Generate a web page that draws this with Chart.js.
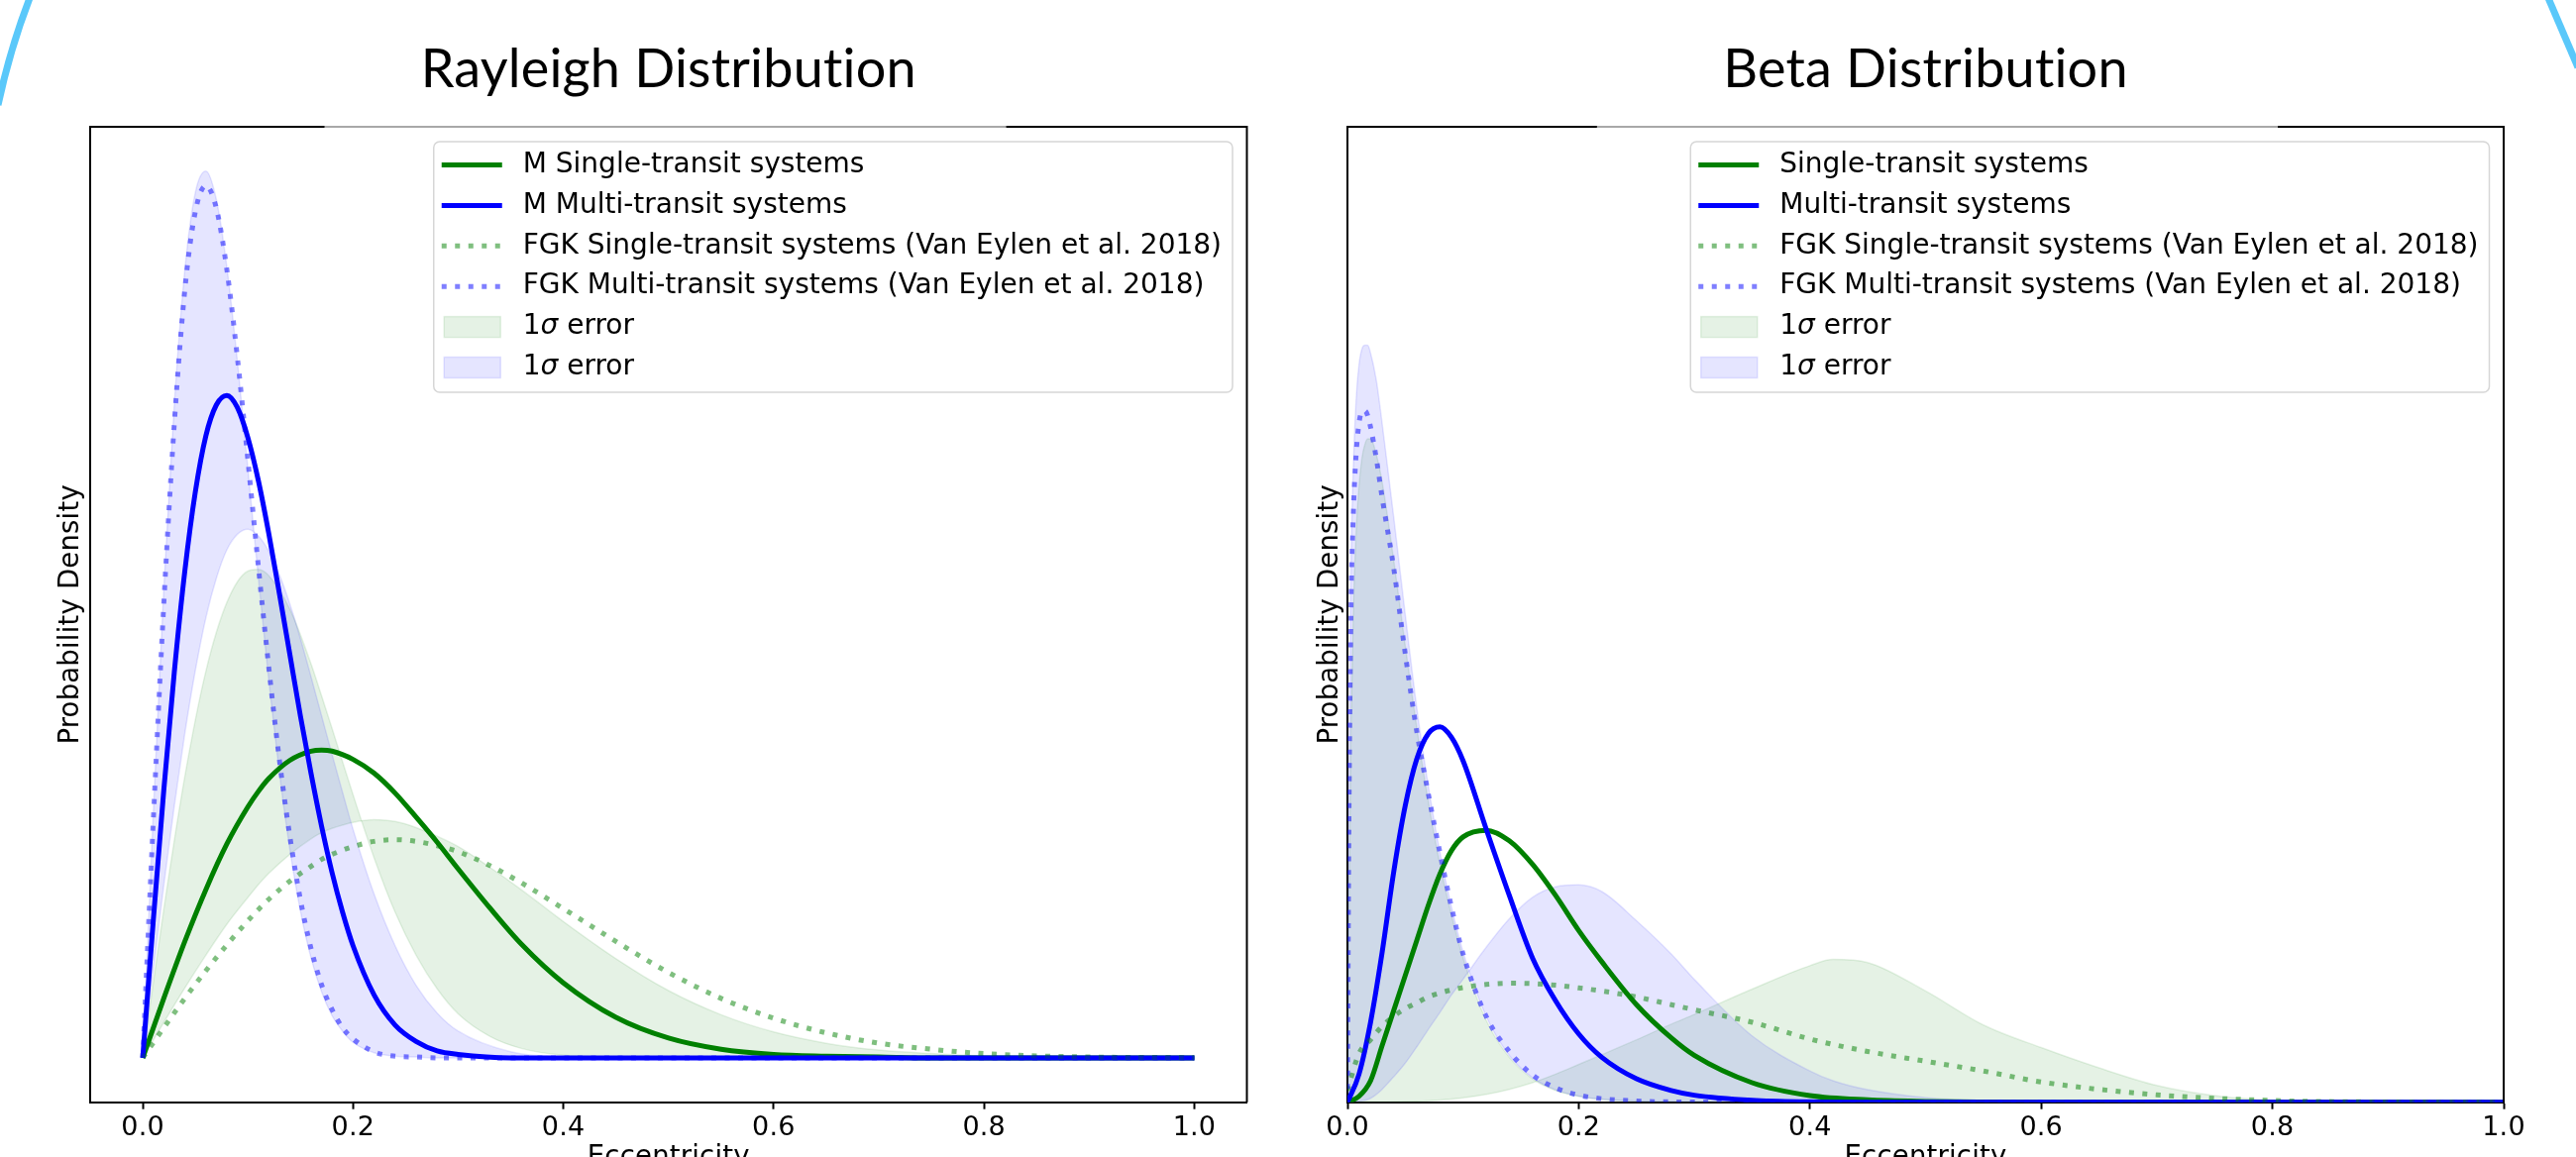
<!DOCTYPE html>
<html><head><meta charset="utf-8">
<script src="https://cdn.jsdelivr.net/npm/chart.js@4.4.1/dist/chart.umd.min.js"></script>
<style>
html,body{margin:0;padding:0;background:#fff;overflow:hidden;width:2600px;height:1168px;position:relative;}
canvas{position:absolute;top:0;}
#c1{left:0;} #c2{left:1300px;} #deco{left:0;pointer-events:none;}
</style></head><body>
<canvas id="c1" width="1300" height="1200"></canvas>
<canvas id="c2" width="1300" height="1200"></canvas>
<canvas id="deco" width="2600" height="1168"></canvas>
<script>
// ---------------- data ----------------
const xTicks = [0, 0.2, 0.4, 0.6, 0.8, 1.0];

// Rayleigh panel
const xRayFine = [0,0.01,0.02,0.03,0.04,0.05,0.06,0.07,0.08,0.09,0.10,0.11,0.12,0.13,0.14,0.15,0.16,0.17,0.18,0.19,0.20,0.22,0.24,0.26,0.28,0.30,0.35,0.40,0.50,0.60,0.80,1.00];
const rayFgkMulti = [0,2.74,5.26,7.35,8.90,9.81,10.11,9.85,9.14,8.12,6.93,5.69,4.51,3.45,2.56,1.83,1.27,0.85,0.56,0.35,0.22,0.07,0.02,0.01,0,0,0,0,0,0,0,0];
const rayMMulti = [0,1.59,3.10,4.47,5.64,6.56,7.21,7.57,7.68,7.54,7.19,6.69,6.07,5.38,4.67,3.96,3.30,2.69,2.15,1.69,1.30,0.73,0.38,0.19,0.08,0.04,0,0,0,0,0,0];
const rayBlueBandA = [0,2.83,5.43,7.57,9.13,10.03,10.28,9.95,9.17,8.08,6.83,5.56,4.36,3.30,2.41,1.70,1.16,0.77,0.49,0.31,0.18,0.06,0.02,0.01,0,0,0,0,0,0,0,0];
const rayBlueBandB = [0,1.02,2.00,2.92,3.76,4.49,5.10,5.56,5.89,6.07,6.13,6.05,5.87,5.60,5.26,4.86,4.42,3.97,3.52,3.08,2.65,1.90,1.30,0.84,0.52,0.31,0.07,0.01,0,0,0,0];

const xRayWide = [0,0.02,0.04,0.06,0.08,0.10,0.11,0.12,0.14,0.16,0.17,0.18,0.20,0.22,0.24,0.26,0.28,0.30,0.33,0.36,0.40,0.45,0.50,0.55,0.60,0.65,0.70,0.75,0.80,0.90,1.00];
const rayMSingle = [0,0.69,1.35,1.95,2.48,2.91,3.09,3.24,3.45,3.555,3.568,3.556,3.46,3.30,3.07,2.79,2.50,2.19,1.74,1.32,0.87,0.47,0.23,0.10,0.04,0.02,0.01,0,0,0,0];
const rayFgkSingle = [0,0.35,0.69,1.01,1.31,1.59,1.72,1.84,2.05,2.22,2.30,2.36,2.45,2.51,2.53,2.51,2.46,2.39,2.23,2.03,1.73,1.35,0.99,0.69,0.46,0.29,0.17,0.10,0.05,0.01,0.003];
const rayGreenBandA = [0,1.72,3.26,4.48,5.28,5.644,5.664,5.589,5.20,4.57,4.20,3.82,3.05,2.32,1.69,1.19,0.80,0.51,0.25,0.11,0.03,0.01,0,0,0,0,0,0,0,0,0];
const rayGreenBandB = [0,0.41,0.81,1.19,1.55,1.86,2.01,2.14,2.36,2.54,2.61,2.66,2.73,2.76,2.74,2.67,2.57,2.45,2.21,1.95,1.58,1.15,0.78,0.50,0.30,0.17,0.09,0.05,0.02,0.004,0.001];

// Beta panel
const xBetaLine = [0,0.01,0.02,0.03,0.04,0.05,0.06,0.07,0.08,0.09,0.10,0.12,0.14,0.16,0.18,0.20,0.22,0.25,0.28,0.30,0.35,0.40,0.45,0.50,0.55,0.60,0.70,0.80,0.90,1.00];
const betaMSingle = [0,0.15,0.55,1.45,2.35,3.25,4.15,5.05,5.85,6.45,6.8,6.97,6.7,6.1,5.3,4.4,3.6,2.5,1.65,1.2,0.5,0.17,0.06,0.02,0.005,0,0,0,0,0];
const betaMMulti = [0,0.72,2.05,3.84,5.9,7.6,8.8,9.45,9.62,9.35,8.75,7.0,5.3,3.7,2.6,1.75,1.15,0.6,0.3,0.18,0.05,0.01,0,0,0,0,0,0,0,0];
const betaFgkSingle = [0.3,1.25,1.6,1.95,2.2,2.4,2.55,2.7,2.8,2.88,2.94,3.02,3.05,3.04,3.0,2.93,2.85,2.7,2.5,2.37,2.05,1.62,1.3,1.05,0.8,0.52,0.19,0.045,0.005,0];

const xBetaNarrow = [0,0.001,0.003,0.005,0.0075,0.01,0.0125,0.015,0.0175,0.02,0.025,0.03,0.04,0.05,0.06,0.07,0.08,0.09,0.10,0.12,0.14,0.16,0.18,0.20,0.25,0.30,0.40,0.60,1.00];
const betaFgkMulti = [0,6,12.5,15.0,16.6,17.4,17.7,17.72,17.6,17.3,16.5,15.5,13.7,11.5,9.5,7.9,6.4,5.0,3.8,2.2,1.3,0.7,0.37,0.18,0.03,0.005,0,0,0];

const xBetaBand = [0,0.001,0.003,0.005,0.0075,0.01,0.0125,0.015,0.0175,0.02,0.025,0.03,0.04,0.05,0.06,0.07,0.08,0.09,0.10,0.12,0.14,0.16,0.18,0.20,0.22,0.25,0.28,0.30,0.35,0.40,0.42,0.45,0.50,0.55,0.60,0.65,0.70,0.75,0.80,0.85,0.90,1.00];
const betaBlueBandA = [0,7,13.5,16.2,18.0,18.9,19.3,19.4,19.4,19.2,18.5,17.4,15.0,12.5,10.1,8.1,6.4,5.0,3.85,2.2,1.2,0.63,0.32,0.16,0.08,0.03,0.01,0.005,0,0,0,0,0,0,0,0,0,0,0,0,0,0];
const betaBlueBandB = [0,0,0.002,0.005,0.01,0.02,0.035,0.05,0.07,0.1,0.2,0.33,0.65,1.0,1.42,1.87,2.3,2.75,3.15,3.97,4.7,5.25,5.52,5.57,5.4,4.65,3.8,3.15,1.7,0.8,0.55,0.32,0.12,0.04,0.01,0,0,0,0,0,0,0];
const betaGreenBandA = [0,4,9.5,12.5,14.6,15.8,16.5,16.85,17.0,17.0,16.6,15.9,13.9,11.7,9.6,7.7,6.1,4.8,3.7,2.1,1.15,0.6,0.3,0.15,0.07,0.025,0.008,0.004,0,0,0,0,0,0,0,0,0,0,0,0,0,0];
const betaGreenBandB = [0,0,0,0,0,0,0,0,0,0,0,0.001,0.004,0.01,0.02,0.035,0.055,0.08,0.11,0.2,0.33,0.5,0.72,0.97,1.22,1.6,2.0,2.25,2.9,3.5,3.66,3.58,2.85,1.98,1.4,0.88,0.43,0.17,0.05,0.01,0,0];

const rayLabels = ['M Single-transit systems','M Multi-transit systems','FGK Single-transit systems (Van Eylen et al. 2018)','FGK Multi-transit systems (Van Eylen et al. 2018)','1σ error','1σ error'];
const betaLabels = ['Single-transit systems','Multi-transit systems','FGK Single-transit systems (Van Eylen et al. 2018)','FGK Multi-transit systems (Van Eylen et al. 2018)','1σ error','1σ error'];
const titles = ['Rayleigh Distribution','Beta Distribution'];
const xLabel = 'Eccentricity';
const yLabel = 'Probability Density';

// ---------------- styles ----------------
const GREEN = 'rgb(0,128,0)', BLUE = 'rgb(0,0,255)';
const GREEN_DOT = 'rgba(0,128,0,0.5)', BLUE_DOT = 'rgba(0,0,255,0.5)';
const GREEN_BAND = 'rgba(0,128,0,0.1)', BLUE_BAND = 'rgba(0,0,255,0.1)';
const DASH = [5, 8.5];
const FONT = '"DejaVu Sans", sans-serif';
const LEGEND_FS = 28;

function pts(xs, ys){ return xs.map((x,i)=>({x:x, y:ys[i]})); }
function lineDs(label, xs, ys, color, dotted, order){
  return {label, data: pts(xs, ys), borderColor: color, borderWidth: 5, borderDash: dotted ? DASH : [],
    borderCapStyle: 'butt', pointRadius: 0, fill: false, cubicInterpolationMode: 'monotone', order};
}
function bandDs(label, xs, ys, color, fillNext, order){
  return {label, data: pts(xs, ys), borderColor: color, borderWidth: 1.5, backgroundColor: color,
    fill: fillNext ? '+1' : false, pointRadius: 0, cubicInterpolationMode: 'monotone', order};
}

const spacingPlugin = {
  id: 'noLig',
  beforeDraw(chart){ if ('letterSpacing' in chart.ctx) chart.ctx.letterSpacing = '0.2px'; },
  afterDraw(chart){ if ('letterSpacing' in chart.ctx) chart.ctx.letterSpacing = '0px'; }
};

const spinePlugin = {
  id: 'spines',
  afterDraw(chart, args, opts){
    const {ctx, chartArea: a} = chart;
    ctx.save();
    ctx.lineWidth = 2;
    ctx.strokeStyle = '#000';
    ctx.beginPath();
    ctx.moveTo(a.left, a.top); ctx.lineTo(a.right, a.top); ctx.lineTo(a.right, a.bottom);
    ctx.stroke();
    if (opts && opts.light){
      ctx.strokeStyle = '#a8a8a8';
      ctx.beginPath();
      ctx.moveTo(a.left + opts.light[0], a.top); ctx.lineTo(a.left + opts.light[1], a.top);
      ctx.stroke();
    }
    ctx.restore();
  }
};

const legendPlugin = {
  id: 'mplLegend',
  afterDraw(chart, args, opts){
    const {ctx, chartArea: a} = chart;
    const items = opts.items;
    const fs = LEGEND_FS;
    const reg = fs + 'px ' + FONT, ita = 'italic ' + fs + 'px ' + FONT;
    ctx.save();
    if ('letterSpacing' in ctx) ctx.letterSpacing = '0px';
    function measure(t){
      const i = t.indexOf('σ');
      if (i < 0){ ctx.font = reg; return ctx.measureText(t).width; }
      ctx.font = reg; let w = ctx.measureText(t.slice(0,i)).width + ctx.measureText(t.slice(i+1)).width;
      ctx.font = ita; w += ctx.measureText('σ').width; return w;
    }
    let maxW = 0; items.forEach(it => { maxW = Math.max(maxW, measure(it.text)); });
    const W = 90 + maxW + 11, H = 253;
    const right = a.right - 14.5, top = a.top + 15, left = right - W;
    const r = 6;
    ctx.beginPath();
    ctx.moveTo(left + r, top); ctx.lineTo(right - r, top); ctx.arcTo(right, top, right, top + r, r);
    ctx.lineTo(right, top + H - r); ctx.arcTo(right, top + H, right - r, top + H, r);
    ctx.lineTo(left + r, top + H); ctx.arcTo(left, top + H, left, top + H - r, r);
    ctx.lineTo(left, top + r); ctx.arcTo(left, top, left + r, top, r); ctx.closePath();
    ctx.fillStyle = 'rgba(255,255,255,0.8)'; ctx.fill();
    ctx.strokeStyle = 'rgba(204,204,204,0.8)'; ctx.lineWidth = 1.5; ctx.stroke();
    items.forEach((it, k) => {
      const cy = top + 23.5 + k * 40.9;
      if (it.type === 'patch'){
        ctx.fillStyle = it.color; ctx.fillRect(left + 10.5, cy - 10.5, 57, 21);
        ctx.strokeStyle = it.color; ctx.lineWidth = 1.5; ctx.strokeRect(left + 10.5, cy - 10.5, 57, 21);
      } else {
        ctx.strokeStyle = it.color; ctx.lineWidth = 5; ctx.lineCap = 'butt';
        ctx.setLineDash(it.type === 'dot' ? DASH : []);
        ctx.beginPath(); ctx.moveTo(left + 8, cy); ctx.lineTo(left + 69, cy); ctx.stroke();
        ctx.setLineDash([]);
      }
      ctx.fillStyle = '#000'; ctx.textBaseline = 'middle'; ctx.textAlign = 'left';
      let x = left + 90; const t = it.text; const i = t.indexOf('σ');
      if (i < 0){ ctx.font = reg; ctx.fillText(t, x, cy); }
      else {
        ctx.font = reg; ctx.fillText(t.slice(0,i), x, cy); x += ctx.measureText(t.slice(0,i)).width;
        ctx.font = ita; ctx.fillText('σ', x, cy); x += ctx.measureText('σ').width;
        ctx.font = reg; ctx.fillText(t.slice(i+1), x, cy);
      }
    });
    ctx.restore();
  }
};

function makeOptions(cfg){
  return {
    responsive: false, animation: false, devicePixelRatio: 1,
    layout: {padding: {left: 0, right: cfg.padRight, top: 0, bottom: 0}},
    plugins: {
      legend: {display: false}, tooltip: {enabled: false},
      title: {display: true, text: cfg.title, fullSize: false, color: '#000',
        font: {family: 'Lato', size: 54, weight: 'normal', lineHeight: 1.2}, padding: {top: 38.5, bottom: 24.7}},
      mplLegend: {items: cfg.legendItems},
      spines: {light: cfg.light}
    },
    scales: {
      x: {type: 'linear', min: cfg.xmin, max: cfg.xmax,
        afterBuildTicks: s => { s.ticks = xTicks.map(v => ({value: v})); },
        ticks: {color: '#000', font: {family: FONT, size: 27}, padding: 3, maxRotation: 0, autoSkip: false,
          callback: v => Number(v).toFixed(1)},
        grid: {display: true, drawOnChartArea: false, drawTicks: true, tickLength: 7, tickWidth: 2, tickColor: '#000', color: '#000'},
        border: {display: true, color: '#000', width: 2},
        title: {display: true, text: xLabel, color: '#000', font: {family: FONT, size: 27.5}, padding: {top: 0, bottom: 15}},
        afterFit: s => { s.height = 87.3; }
      },
      y: {type: 'linear', min: cfg.ymin, max: cfg.ymax,
        ticks: {display: false}, grid: {display: false},
        border: {display: true, color: '#000', width: 2},
        title: {display: true, text: yLabel, color: '#000', font: {family: FONT, size: 27.5}, padding: {top: cfg.yTitlePad, bottom: 0}},
        afterFit: s => { s.width = cfg.yWidth; }
      }
    }
  };
}

function legendItems(labels){
  return [
    {text: labels[0], type: 'line', color: GREEN},
    {text: labels[1], type: 'line', color: BLUE},
    {text: labels[2], type: 'dot', color: GREEN_DOT},
    {text: labels[3], type: 'dot', color: BLUE_DOT},
    {text: labels[4], type: 'patch', color: GREEN_BAND},
    {text: labels[5], type: 'patch', color: BLUE_BAND}
  ];
}

// Rayleigh
const rayAll = [].concat(rayFgkMulti, rayMMulti, rayBlueBandA, rayBlueBandB, rayMSingle, rayFgkSingle, rayGreenBandA, rayGreenBandB);
const rayMax = Math.max.apply(null, rayAll);
new Chart(document.getElementById('c1'), {
  type: 'line',
  data: {datasets: [
    lineDs(rayLabels[0], xRayWide, rayMSingle, GREEN, false, 4),
    lineDs(rayLabels[1], xRayFine, rayMMulti, BLUE, false, 3),
    lineDs(rayLabels[2], xRayWide, rayFgkSingle, GREEN_DOT, true, 2),
    lineDs(rayLabels[3], xRayFine, rayFgkMulti, BLUE_DOT, true, 1),
    bandDs(rayLabels[4], xRayWide, rayGreenBandA, GREEN_BAND, true, 12),
    bandDs('', xRayWide, rayGreenBandB, GREEN_BAND, false, 13),
    bandDs(rayLabels[5], xRayFine, rayBlueBandA, BLUE_BAND, true, 10),
    bandDs('', xRayFine, rayBlueBandB, BLUE_BAND, false, 11)
  ]},
  options: makeOptions({title: titles[0], padRight: 41.5, xmin: -0.05, xmax: 1.05,
    ymin: -0.05 * rayMax, ymax: 1.05 * rayMax, yTitlePad: 55.5, yWidth: 91,
    legendItems: legendItems(rayLabels), light: [236.5, 924.6]}),
  plugins: [spacingPlugin, spinePlugin, legendPlugin]
});

// Beta
new Chart(document.getElementById('c2'), {
  type: 'line',
  data: {datasets: [
    lineDs(betaLabels[0], xBetaLine, betaMSingle, GREEN, false, 4),
    lineDs(betaLabels[1], xBetaLine, betaMMulti, BLUE, false, 3),
    lineDs(betaLabels[2], xBetaLine, betaFgkSingle, GREEN_DOT, true, 2),
    lineDs(betaLabels[3], xBetaNarrow, betaFgkMulti, BLUE_DOT, true, 1),
    bandDs(betaLabels[4], xBetaBand, betaGreenBandA, GREEN_BAND, true, 12),
    bandDs('', xBetaBand, betaGreenBandB, GREEN_BAND, false, 13),
    bandDs(betaLabels[5], xBetaBand, betaBlueBandA, BLUE_BAND, true, 10),
    bandDs('', xBetaBand, betaBlueBandB, BLUE_BAND, false, 11)
  ]},
  options: makeOptions({title: titles[1], padRight: 73, xmin: 0, xmax: 1,
    ymin: 0, ymax: 25, yTitlePad: 26.5, yWidth: 60,
    legendItems: legendItems(betaLabels), light: [251.8, 939]}),
  plugins: [spacingPlugin, spinePlugin, legendPlugin]
});

// decorative corner arcs (slide background)
(function(){
  const c = document.getElementById('deco').getContext('2d');
  c.strokeStyle = '#5ac8fa'; c.lineWidth = 7; c.lineCap = 'butt';
  c.beginPath(); c.moveTo(30, -2); c.quadraticCurveTo(10, 50, -2, 106); c.stroke();
  c.beginPath(); c.moveTo(2572, -2); c.quadraticCurveTo(2588, 35, 2602, 68); c.stroke();
})();
</script>
</body></html>
